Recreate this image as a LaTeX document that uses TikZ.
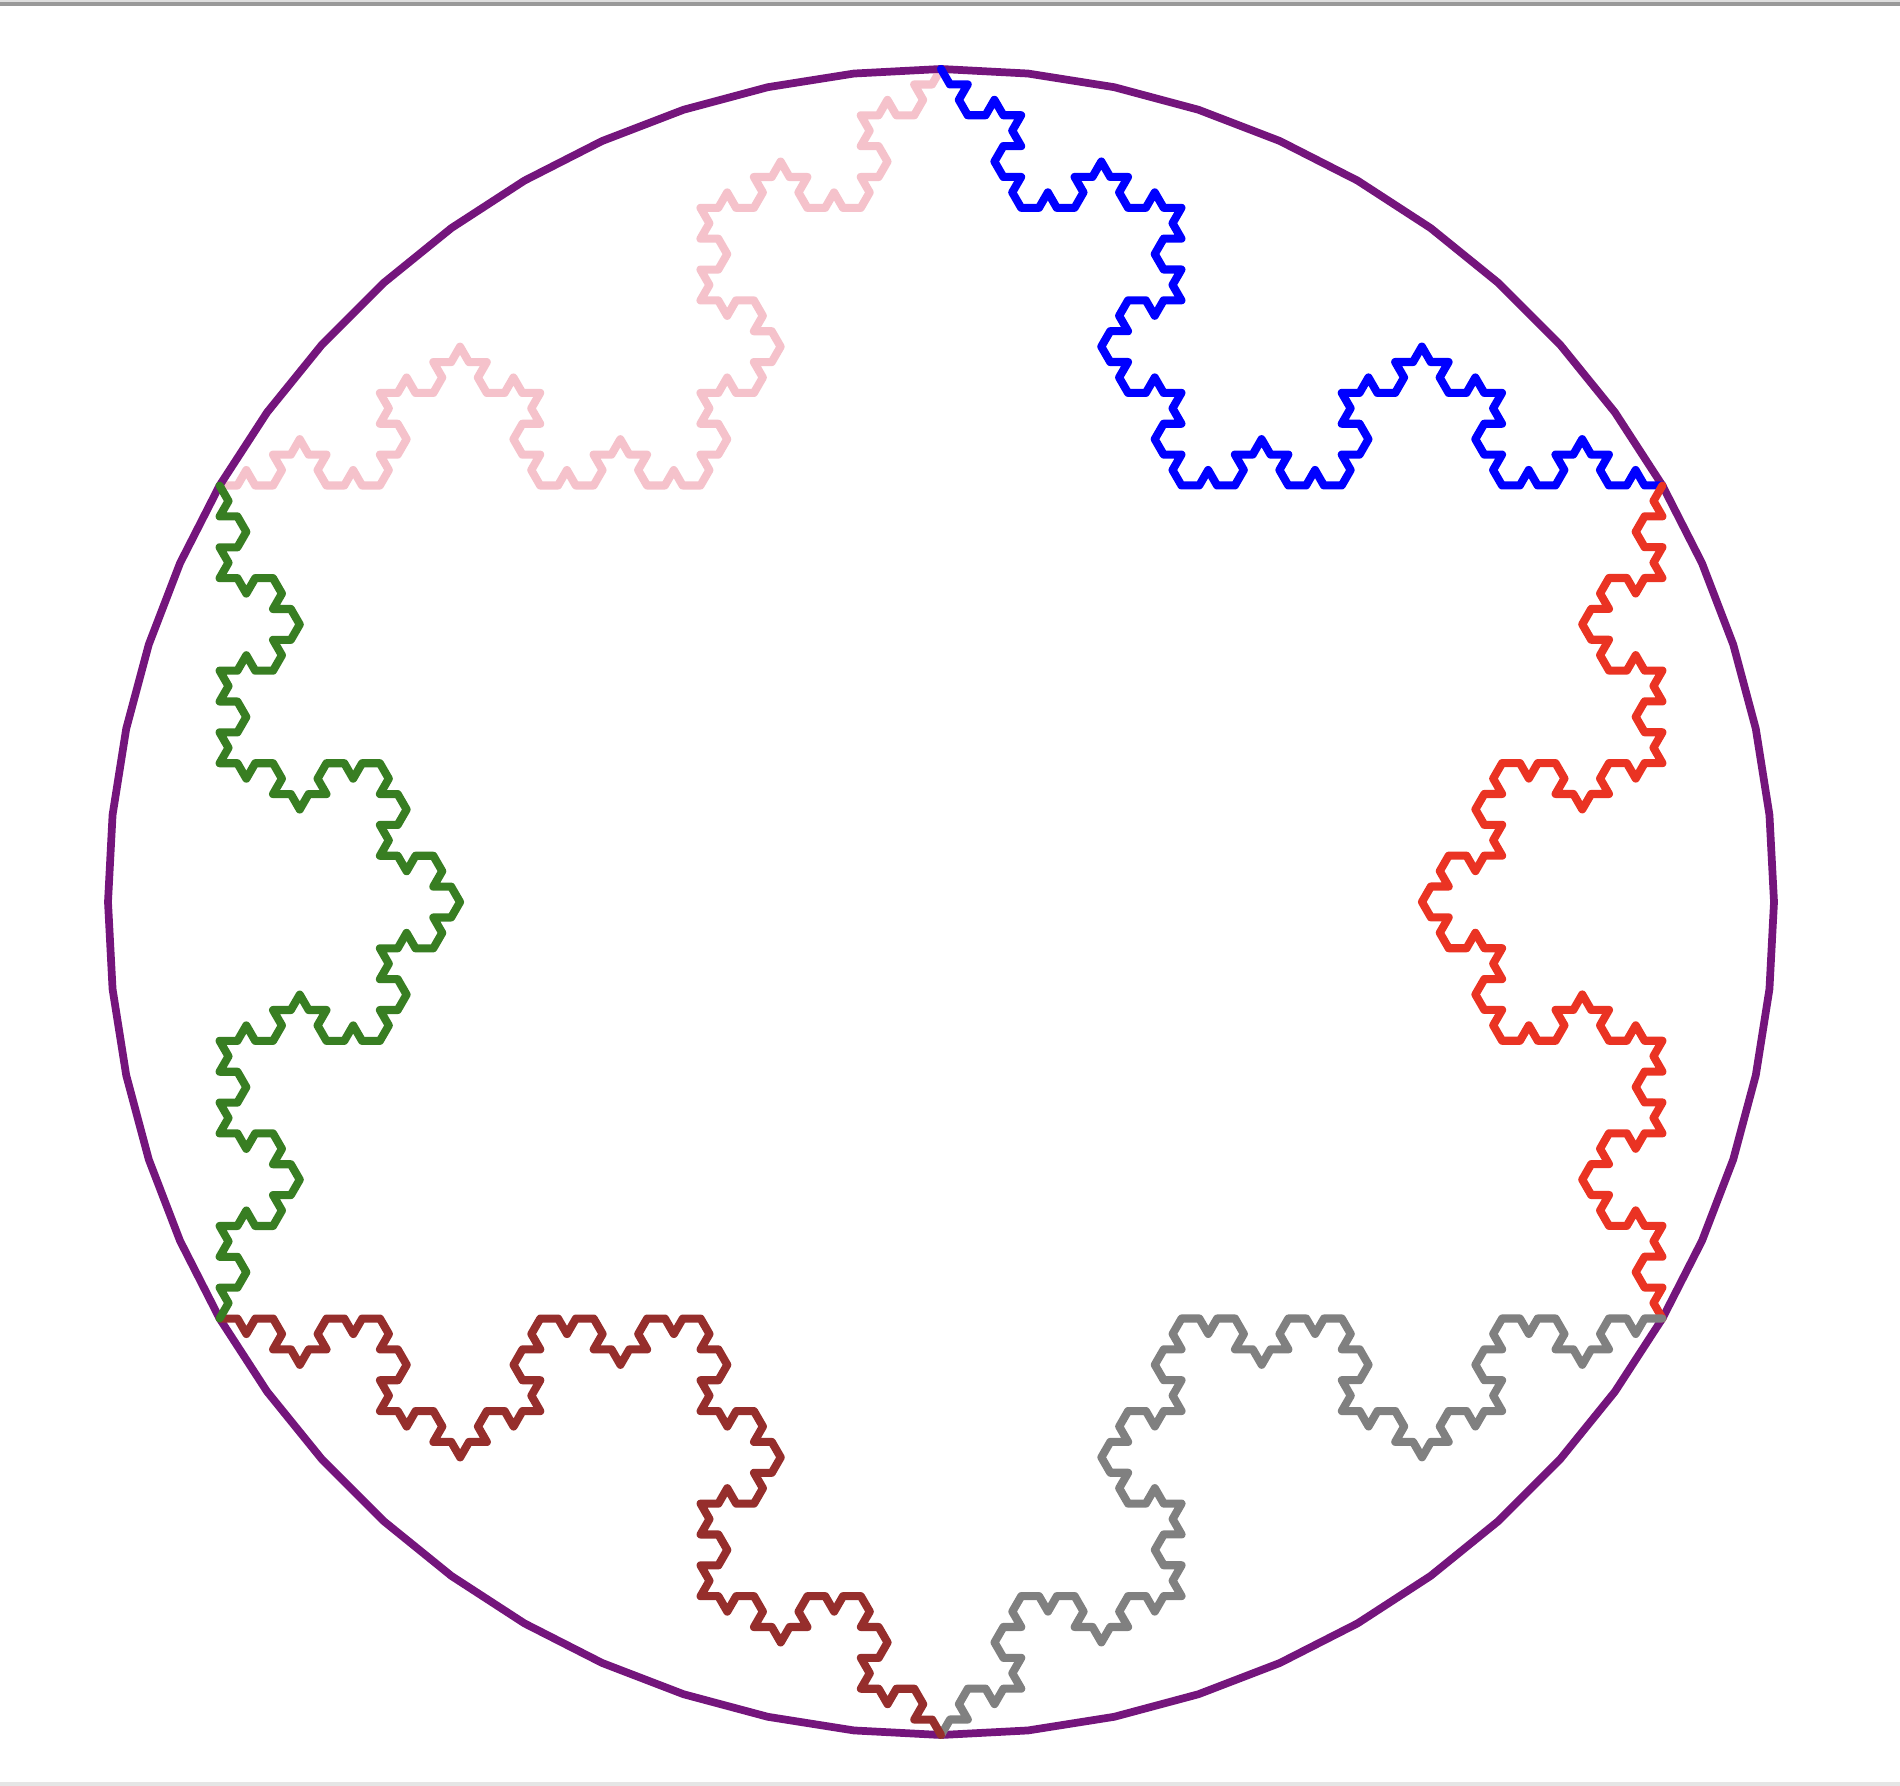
\documentclass[tikz,border=0pt]{standalone}
\usepackage{tikz}
\definecolor{kpurple}{RGB}{116,21,124}
\definecolor{kblue}{RGB}{0,0,255}
\definecolor{kred}{RGB}{234,51,35}
\definecolor{kgray}{RGB}{128,128,128}
\definecolor{kbrown}{RGB}{150,46,44}
\definecolor{kgreen}{RGB}{56,126,34}
\definecolor{kpink}{RGB}{245,194,203}
\definecolor{topline}{RGB}{153,153,153}
\definecolor{toplight}{RGB}{222,222,222}
\definecolor{botline}{RGB}{229,229,229}
\newcount\kochlv
\newcount\kocha
\newcount\kochb
\def\kochR{833}
\def\kochCx{941}
\def\kochCy{902}
\def\kochlen{17.81}
\gdef\kochpath{}
\def\kochgen#1#2{%
  \begingroup
  \kochlv=#1\relax
  \kocha=#2\relax
  \ifnum\kochlv=0
    \xdef\kochpath{\kochpath -- ++(\the\kocha:\kochlen)}%
  \else
    \advance\kochlv by -1
    \edef\kl{\the\kochlv}%
    \edef\ka{\the\kocha}%
    \kochb=\kocha \advance\kochb by -60 \edef\km{\the\kochb}%
    \kochb=\kocha \advance\kochb by 60 \edef\kp{\the\kochb}%
    \kochgen{\kl}{\ka}\kochgen{\kl}{\km}\kochgen{\kl}{\kp}\kochgen{\kl}{\ka}%
  \fi
  \endgroup}
\tikzset{
  kochline/.style={line width=2.3pt, line join=round, line cap=round},
  ringline/.style={line width=2.2pt, line join=round, draw=kpurple}
}
\def\kochside#1#2{%
  \gdef\kochpath{}%
  \pgfmathtruncatemacro\aone{60+60*#1}%
  \pgfmathtruncatemacro\atwo{60*#1}%
  \kochgen{3}{\aone}\kochgen{3}{\atwo}%
  \pgfmathsetmacro\vx{\kochCx+\kochR*cos(-90+60*#1)}%
  \pgfmathsetmacro\vy{\kochCy+\kochR*sin(-90+60*#1)}%
  \edef\kochcmd{\noexpand\draw[kochline,draw=#2] (\vx,\vy) \kochpath;}%
  \kochcmd}
\begin{document}
\begin{tikzpicture}[x=0.01cm,y=-0.01cm]
\useasboundingbox (0,0) rectangle (1900,1786);
\fill[white] (0,0) rectangle (1900,1786);
\fill[toplight] (0,0) rectangle (1900,2);
\fill[topline] (0,2) rectangle (1900,6);
\fill[botline] (0,1782) rectangle (1900,1786);
% pink side (under the ring)
\kochside{5}{kpink}
% the 60-gon ring
\draw[ringline] plot[variable=\t, samples=60, domain=-90:264] ({\kochCx+\kochR*cos(\t)},{\kochCy+\kochR*sin(\t)}) -- cycle;
\kochside{0}{kblue}
\kochside{1}{kred}
\kochside{2}{kgray}
\kochside{3}{kbrown}
\kochside{4}{kgreen}
\end{tikzpicture}
\end{document}
